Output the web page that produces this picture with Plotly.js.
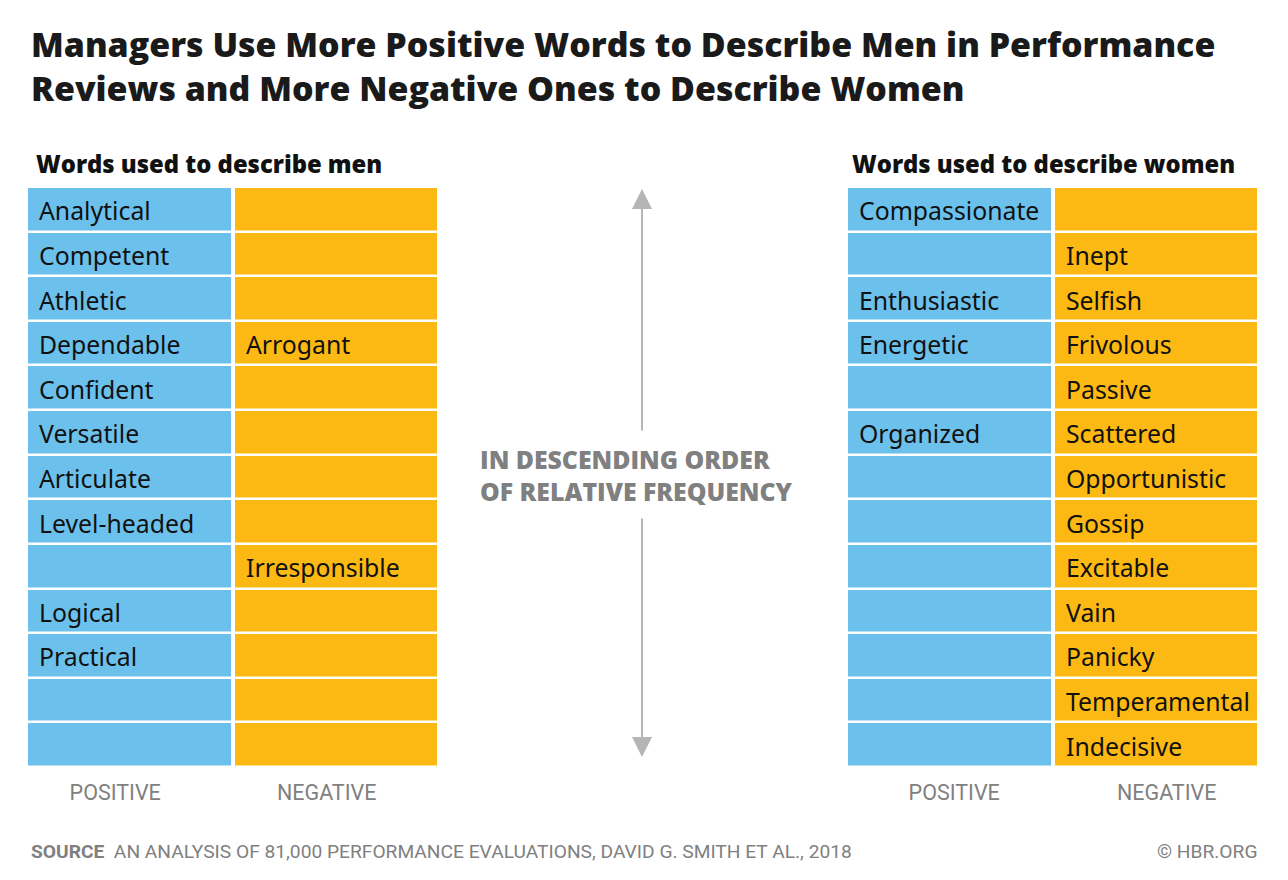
<!DOCTYPE html>
<html>
<head>
<meta charset="utf-8">
<script src="https://cdn.plot.ly/plotly-3.0.1.min.js"></script>
<style>html,body{margin:0;padding:0;background:#fff;}#chart{width:1288px;height:880px;}</style>
</head>
<body>
<div id="chart"></div>
<script>
// ---- data ----
const ranks = [1,2,3,4,5,6,7,8,9,10,11,12,13];
const columnLabels = ["POSITIVE", "NEGATIVE"];
const menPositive = ["Analytical","Competent","Athletic","Dependable","Confident","Versatile","Articulate","Level-headed","","Logical","Practical","",""];
const menNegative = ["","","","Arrogant","","","","","Irresponsible","","","",""];
const womenPositive = ["Compassionate","","Enthusiastic","Energetic","","Organized","","","","","","",""];
const womenNegative = ["","Inept","Selfish","Frivolous","Passive","Scattered","Opportunistic","Gossip","Excitable","Vain","Panicky","Temperamental","Indecisive"];
const chartTitle = "Managers Use More Positive Words to Describe Men in Performance<br>Reviews and More Negative Ones to Describe Women";
const menHeading = "Words used to describe men";
const womenHeading = "Words used to describe women";
const middleNote = "IN DESCENDING ORDER<br>OF RELATIVE FREQUENCY";
const sourceText = "<b>SOURCE</b>  AN ANALYSIS OF 81,000 PERFORMANCE EVALUATIONS, DAVID G. SMITH ET AL., 2018";
const creditText = "© HBR.ORG";

// ---- styles ----
const BLUE = "#6cc1ec", ORANGE = "#fdb913", GRAY = "#808080", ARROW = "#b5b5b5";
const W = 1288, H = 880;
const px = v => v / W, py = v => 1 - v / H;
const cellFont = {family: "Noto Sans, sans-serif", size: 24.8, color: "#111"};

const zGrid = ranks.map(() => [0, 1]);
function grid(xa, ya) {
  return {
    type: "heatmap", x: [0, 1], y: ranks, z: zGrid,
    xaxis: xa, yaxis: ya, xgap: 4, ygap: 2.5,
    colorscale: [[0, BLUE], [1, ORANGE]], zmin: 0, zmax: 1,
    showscale: false, hoverinfo: "skip"
  };
}

const annotations = [];
function cellText(words, col, xref, yref) {
  words.forEach((w, i) => {
    if (!w) return;
    annotations.push({
      xref: xref, yref: yref, x: col - 0.5, y: ranks[i],
      xanchor: "left", yanchor: "middle", xshift: 11, yshift: -1,
      text: w, showarrow: false, font: cellFont
    });
  });
}
cellText(menPositive, 0, "x", "y");
cellText(menNegative, 1, "x", "y");
cellText(womenPositive, 0, "x2", "y2");
cellText(womenNegative, 1, "x2", "y2");

// title
annotations.push({xref: "paper", yref: "paper", x: px(29), y: py(18.5), xanchor: "left", yanchor: "top",
  text: chartTitle, align: "left", showarrow: false,
  font: {family: "Open Sans, sans-serif", size: 33.9, color: "#1a1a1a", weight: 800}});

const headFont = {family: "Open Sans, sans-serif", size: 23.8, color: "#111", weight: 800};
annotations.push({xref: "paper", yref: "paper", x: px(34), y: py(164), xanchor: "left", yanchor: "middle",
  text: menHeading, showarrow: false, font: headFont});
annotations.push({xref: "paper", yref: "paper", x: px(850), y: py(164), xanchor: "left", yanchor: "middle",
  text: womenHeading, showarrow: false, font: headFont});

annotations.push({xref: "paper", yref: "paper", x: px(478), y: py(475), xanchor: "left", yanchor: "middle",
  text: middleNote, align: "left", showarrow: false,
  font: {family: "Open Sans, sans-serif", size: 24.8, color: GRAY, weight: 800}});

// arrows (decoration)
annotations.push({xref: "paper", yref: "paper", x: px(642), y: py(189), ax: 0, ay: 243,
  text: "", showarrow: true, arrowhead: 2, arrowsize: 2, arrowwidth: 2, arrowcolor: ARROW, standoff: 0});
annotations.push({xref: "paper", yref: "paper", x: px(642), y: py(757), ax: 0, ay: -240,
  text: "", showarrow: true, arrowhead: 2, arrowsize: 2, arrowwidth: 2, arrowcolor: ARROW, standoff: 0});

const footFont = {family: "Roboto, sans-serif", size: 19.2, color: GRAY};
annotations.push({xref: "paper", yref: "paper", x: px(29), y: py(851), xanchor: "left", yanchor: "middle",
  text: sourceText, showarrow: false, font: footFont});
annotations.push({xref: "paper", yref: "paper", x: px(1259), y: py(851), xanchor: "right", yanchor: "middle",
  text: creditText, showarrow: false, font: footFont});

function xAxis(d0, d1, anchor, tv) {
  return {
    domain: [px(d0), px(d1)], anchor: anchor, range: [-0.5, 1.5],
    tickvals: tv, ticktext: columnLabels, ticks: "", showgrid: false, zeroline: false,
    showline: false, fixedrange: true, automargin: false, ticklabelstandoff: 10,
    tickfont: {family: "Roboto, sans-serif", size: 21.5, color: GRAY}
  };
}
function yAxis(anchor) {
  return {
    domain: [py(767), py(187)], anchor: anchor, range: [13.5, 0.5],
    showticklabels: false, ticks: "", showgrid: false, zeroline: false, showline: false,
    fixedrange: true, automargin: false
  };
}

const layout = {
  width: W, height: H,
  margin: {l: 0, r: 0, t: 0, b: 0},
  paper_bgcolor: "#fff", plot_bgcolor: "#fff",
  showlegend: false,
  xaxis: xAxis(26, 439, "y", [-0.068, 0.956]),
  yaxis: yAxis("x"),
  xaxis2: xAxis(846, 1259, "y2", [0.024, 1.053]),
  yaxis2: yAxis("x2"),
  annotations: annotations
};

Plotly.newPlot("chart", [grid("x", "y"), grid("x2", "y2")], layout, {displayModeBar: false, staticPlot: true});
</script>
</body>
</html>
